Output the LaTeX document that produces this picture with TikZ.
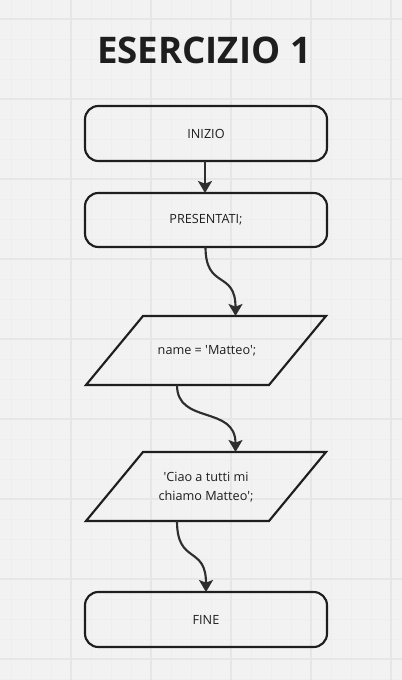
\documentclass[tikz,border=0pt]{standalone}
\usepackage{fontspec}
\setmainfont{Open Sans}[Ligatures=TeXOff]
\usetikzlibrary{arrows.meta}
\definecolor{bg}{HTML}{F2F2F2}
\definecolor{minorgrid}{HTML}{EEEEEE}
\definecolor{majorgrid}{HTML}{E6E6E6}
\definecolor{ink}{HTML}{1E1E1E}
\definecolor{arrowink}{HTML}{2E2E2E}
\tikzset{
  box/.style={draw=ink, line width=1.6pt, rounded corners=10pt},
  para/.style={draw=ink, line width=1.6pt},
  lbl/.style={font=\fontsize{9.5pt}{14pt}\selectfont, text=ink, align=center, inner sep=0pt},
  flow/.style={draw=arrowink, line width=1.6pt, -{Stealth[length=9pt,width=10.5pt,inset=2pt]}},
}
\begin{document}
\begin{tikzpicture}[x=0.75pt,y=-0.75pt]
\fill[bg] (0,0) rectangle (402,680);
\useasboundingbox (0,0) rectangle (402,680);
% grid
\foreach \x in {11,31,...,402} \draw[minorgrid, line width=0.5pt] (\x,0) -- (\x,680);
\foreach \y in {19,39,...,680} \draw[minorgrid, line width=0.5pt] (0,\y) -- (402,\y);
\foreach \x in {71,151,...,402} \draw[majorgrid, line width=0.9pt] (\x,0) -- (\x,680);
\foreach \y in {19,99,...,680} \draw[majorgrid, line width=0.9pt] (0,\y) -- (402,\y);
% title
\node[text=ink, font=\fontsize{27.5pt}{30pt}\selectfont\bfseries, inner sep=0pt] (title) at (204,50) {ESERCIZIO 1};
% boxes
\draw[box] (85,106) rectangle (327,161);
\node[lbl] (inizio) at (206,133.5) {INIZIO};
\coordinate (inizioB) at (205,161);
\draw[box] (85,193) rectangle (327,247);
\node[lbl] (pres) at (206,220) {PRESENTATI;};
\coordinate (presT) at (205,193);
\coordinate (presB) at (205.5,247);
% parallelogram 1
\draw[para] (143,316) -- (326,316) -- (269,385) -- (86,385) -- cycle;
\node[lbl] (name) at (207,350.5) {name = 'Matteo';};
\coordinate (p1T) at (235.5,316);
\coordinate (p1B) at (177,385);
% parallelogram 2
\draw[para] (143,452) -- (326,452) -- (269,521) -- (86,521) -- cycle;
\node[lbl] (ciao) at (206,487) {'Ciao a tutti mi\\chiamo Matteo';};
\coordinate (p2T) at (235.5,452);
\coordinate (p2B) at (177,521);
% fine
\draw[box] (85,592) rectangle (327,647);
\node[lbl] (fine) at (206,620) {FINE};
\coordinate (fineT) at (206,592);
% connectors
\draw[flow] (inizioB) -- (presT);
\draw[flow] (presB) .. controls (205.5,290) and (235.5,270) .. (p1T);
\draw[flow] (p1B) .. controls (177,425) and (235.5,405) .. (p2T);
\draw[flow] (p2B) .. controls (177,565) and (206,545) .. (fineT);
\end{tikzpicture}
\end{document}
